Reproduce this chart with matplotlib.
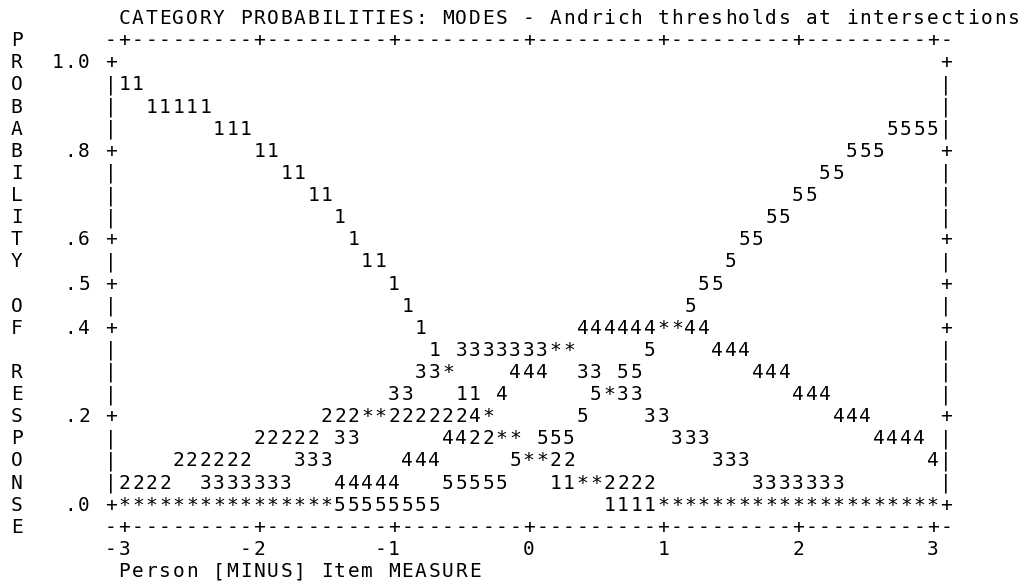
import matplotlib
matplotlib.use("Agg")
import matplotlib.pyplot as plt

title = "CATEGORY PROBABILITIES: MODES - Andrich thresholds at intersections"
side_label = "PROBABILITY OF RESPONSE"
x_label = "Person [MINUS] Item MEASURE"

# probability axis: one text row per 0.05, labelled rows only
prob_ticks = [1.0, 0.8, 0.6, 0.5, 0.4, 0.2, 0.0]
prob_tick_labels = ["1.0", ".8", ".6", ".5", ".4", ".2", ".0"]
measure_ticks = [-3, -2, -1, 0, 1, 2, 3]

# category curves as printed: one string per row (P = 1.0 down to 0.0),
# one character per 0.1 logit starting at measure -3
curve_rows = [
    "",
    "11",
    "  11111",
    "       111                                               5555",
    "          11                                          555",
    "            11                                      55",
    "              11                                  55",
    "                1                               55",
    "                 1                            55",
    "                  11                         5",
    "                    1                      55",
    "                     1                    5",
    "                      1           444444**44",
    "                       1 3333333**     5    444",
    "                      33*    444  33 55        444",
    "                    33   11 4      5*33           444",
    "               222**2222224*      5    33            444",
    "          22222 33      4422** 555       333            4444",
    "    222222   333     444     5**22          333             4",
    "2222  3333333   44444   55555   11**2222       3333333",
    "****************55555555            1111*********************",
]

ROW = 0.05   # probability per text row
COL = 0.1    # logits per text column
NCOL = 61
BASE = 0.016  # half cap height, in probability units

font = dict(family="DejaVu Sans Mono", fontsize=14, color="#000000")

fig = plt.figure(figsize=(10.34, 5.88), dpi=100)
ax = fig.add_axes([0, 0, 1, 1])
ax.set_xlim(-3.924, 3.752)
ax.set_ylim(-0.1907, 1.1384)
ax.axis("off")


def put(s, x0, y):
    for k, ch in enumerate(s):
        if ch != " ":
            ax.text(x0 + k * COL, y - BASE, ch, ha="center", va="baseline", **font)


def is_tick(v, ticks):
    return any(abs(v - t) < 1e-6 for t in ticks)


# curves
for j, row in enumerate(curve_rows):
    p = 1.0 - j * ROW
    put(row.ljust(NCOL), -3.0, p)

# vertical frame sides
for j in range(len(curve_rows)):
    p = round(1.0 - j * ROW, 2)
    ch = "+" if is_tick(p, prob_ticks) else "|"
    put(ch, -3.0 - COL, p)
    put(ch, 3.0 + COL, p)

# horizontal frame lines above and below
axis_line = ""
for k in range(NCOL + 2):
    x = round(-3.0 - COL + k * COL, 2)
    axis_line += "+" if is_tick(x, measure_ticks) else "-"
put(axis_line, -3.0 - COL, 1.0 + ROW)
put(axis_line, -3.0 - COL, 0.0 - ROW)

# probability labels, right aligned two columns left of the frame
for p, lab in zip(prob_ticks, prob_tick_labels):
    put(lab, -3.0 - 3 * COL - (len(lab) - 1) * COL, p)

# measure labels, last character under the tick
for t in measure_ticks:
    s = str(t)
    put(s, t - (len(s) - 1) * COL, -2 * ROW)

# vertical side label, one letter per row
for k, ch in enumerate(side_label):
    put(ch, -3.8, 1.0 + ROW - k * ROW)

put(title, -3.0, 1.0 + 2 * ROW)
put(x_label, -3.0, 0.0 - 3 * ROW)

fig.savefig("out.png", dpi=100, facecolor="white")
